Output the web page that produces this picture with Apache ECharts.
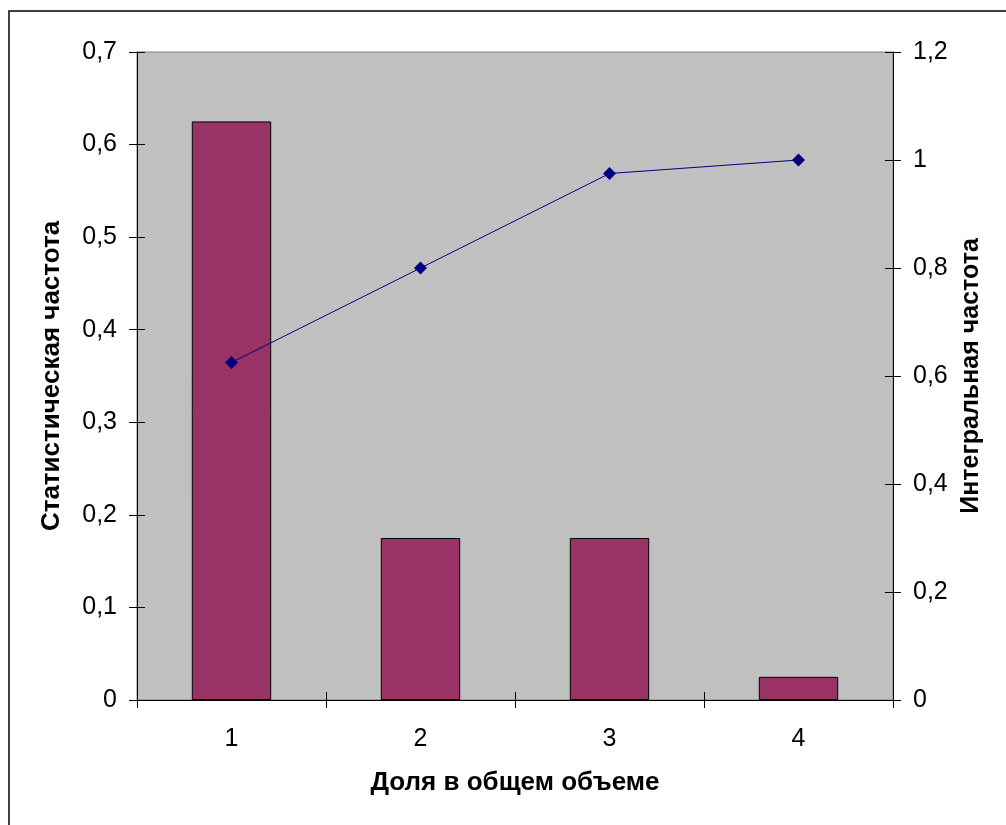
<!DOCTYPE html>
<html><head><meta charset="utf-8">
<script src="https://cdn.jsdelivr.net/npm/echarts@6/dist/echarts.min.js"></script>
<style>html,body{margin:0;padding:0;background:#fff}#c{width:1006px;height:825px}</style>
</head><body><div id="c"></div>
<script>
const categories = ['1', '2', '3', '4'];
const statFreq = [0.625, 0.175, 0.175, 0.025];
const cumFreq = [0.625, 0.8, 0.975, 1.0];
const leftTitle = 'Статистическая частота';
const rightTitle = 'Интегральная частота';
const xTitle = 'Доля в общем объеме';

const FONT = '"Liberation Sans", Arial, sans-serif';
const fmt = v => String(+v.toFixed(2)).replace('.', ',');
const chart = echarts.init(document.getElementById('c'));
const tickStyle = {color: '#000', width: 1};
chart.setOption({
  animation: false,
  backgroundColor: '#fff',
  textStyle: {fontFamily: FONT},
  graphic: [{type: 'rect', shape: {x: 9, y: 11, width: 1200, height: 1000},
    style: {fill: 'none', stroke: '#000', lineWidth: 1.5}, silent: true}],
  grid: {left: 137, right: 113, top: 52, bottom: 125, show: true,
    backgroundColor: '#c0c0c0', borderColor: '#808080', borderWidth: 1},
  xAxis: [{
    type: 'category', data: categories, position: 'bottom',
    axisLine: {lineStyle: {color: '#000', width: 1}},
    axisTick: {show: true, inside: false, length: 8, lineStyle: tickStyle},
    axisLabel: {color: '#000', fontSize: 25, margin: 27, fontFamily: FONT},
    name: xTitle, nameLocation: 'middle', nameGap: 70,
    nameTextStyle: {color: '#000', fontSize: 26, fontWeight: 'bold', fontFamily: FONT}
  }, {
    type: 'category', data: categories, position: 'bottom',
    axisLine: {show: false},
    axisTick: {show: true, inside: true, length: 8, lineStyle: tickStyle},
    axisLabel: {show: false}
  }],
  yAxis: [{
    type: 'value', min: 0, max: 0.7, interval: 0.1, position: 'left',
    splitLine: {show: false},
    axisLine: {show: true, lineStyle: {color: '#000', width: 1}},
    axisTick: {show: true, inside: false, length: 8, lineStyle: tickStyle},
    axisLabel: {color: '#000', fontSize: 25, margin: 20, formatter: fmt, fontFamily: FONT},
    name: leftTitle, nameLocation: 'middle', nameGap: 72, nameRotate: 90,
    nameTextStyle: {color: '#000', fontSize: 26, fontWeight: 'bold', fontFamily: FONT}
  }, {
    type: 'value', min: 0, max: 1.2, interval: 0.2, position: 'right',
    splitLine: {show: false},
    axisLine: {show: true, lineStyle: {color: '#000', width: 1}},
    axisTick: {show: true, inside: false, length: 8, lineStyle: tickStyle},
    axisLabel: {color: '#000', fontSize: 25, margin: 20, formatter: fmt, fontFamily: FONT},
    name: rightTitle, nameLocation: 'middle', nameGap: 64, nameRotate: 90,
    nameTextStyle: {color: '#000', fontSize: 25, fontWeight: 'bold', fontFamily: FONT}
  }, {
    type: 'value', min: 0, max: 0.7, interval: 0.1, position: 'left',
    splitLine: {show: false}, axisLine: {show: false},
    axisTick: {show: true, inside: true, length: 8, lineStyle: tickStyle},
    axisLabel: {show: false}
  }, {
    type: 'value', min: 0, max: 1.2, interval: 0.2, position: 'right',
    splitLine: {show: false}, axisLine: {show: false},
    axisTick: {show: true, inside: true, length: 8, lineStyle: tickStyle},
    axisLabel: {show: false}
  }],
  series: [{
    type: 'bar', data: statFreq, xAxisIndex: 0, yAxisIndex: 0,
    barWidth: '42%',
    itemStyle: {color: '#993366', borderColor: '#000', borderWidth: 1}
  }, {
    type: 'line', data: cumFreq, xAxisIndex: 0, yAxisIndex: 1,
    symbol: 'diamond', symbolSize: 13,
    lineStyle: {color: '#000080', width: 1},
    itemStyle: {color: '#000080'}
  }]
});
</script></body></html>
